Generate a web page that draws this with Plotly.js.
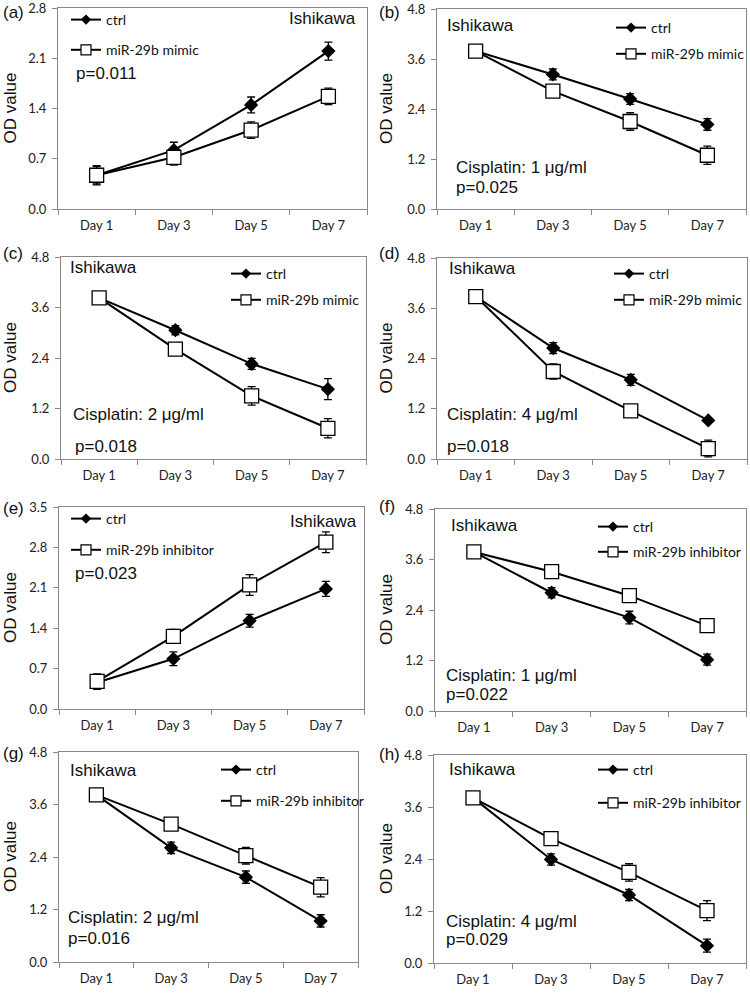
<!DOCTYPE html>
<html>
<head>
<meta charset="utf-8">
<script src="https://cdn.plot.ly/plotly-3.0.1.min.js"></script>
<style>html,body{margin:0;padding:0;background:#fff;}#chart{width:750px;height:993px;}</style>
</head>
<body>
<div id="chart"></div>
<script>
// ---- data ----
const days = ["Day 1", "Day 3", "Day 5", "Day 7"];

const ctrlA = [0.47, 0.82, 1.45, 2.20];
const ctrlAErr = [0.12, 0.11, 0.11, 0.125];
const mimicA = [0.47, 0.72, 1.10, 1.57];
const mimicAErr = [0.135, 0.11, 0.115, 0.115];

const ctrlB = [3.79, 3.23, 2.64, 2.03];
const ctrlBErr = [0.05, 0.13, 0.13, 0.14];
const mimicB = [3.79, 2.83, 2.10, 1.29];
const mimicBErr = [0.05, 0.06, 0.21, 0.22];

const ctrlC = [3.83, 3.06, 2.26, 1.66];
const ctrlCErr = [0.05, 0.11, 0.13, 0.25];
const mimicC = [3.83, 2.61, 1.50, 0.73];
const mimicCErr = [0.05, 0.06, 0.22, 0.23];

const ctrlD = [3.88, 2.65, 1.89, 0.92];
const ctrlDErr = [0.05, 0.13, 0.13, 0.04];
const mimicD = [3.88, 2.09, 1.15, 0.25];
const mimicDErr = [0.05, 0.18, 0.10, 0.20];

const ctrlE = [0.46, 0.87, 1.53, 2.08];
const ctrlEErr = [0.12, 0.12, 0.11, 0.13];
const inhibE = [0.48, 1.26, 2.15, 2.89];
const inhibEErr = [0.13, 0.12, 0.18, 0.18];

const ctrlF = [3.78, 2.81, 2.22, 1.22];
const ctrlFErr = [0.05, 0.12, 0.15, 0.13];
const inhibF = [3.78, 3.31, 2.74, 2.03];
const inhibFErr = [0.05, 0.05, 0.08, 0.10];

const ctrlG = [3.82, 2.61, 1.94, 0.94];
const ctrlGErr = [0.05, 0.13, 0.14, 0.14];
const inhibG = [3.82, 3.15, 2.43, 1.71];
const inhibGErr = [0.05, 0.06, 0.19, 0.22];

const ctrlH = [3.81, 2.39, 1.57, 0.40];
const ctrlHErr = [0.05, 0.13, 0.13, 0.15];
const inhibH = [3.81, 2.87, 2.09, 1.21];
const inhibHErr = [0.05, 0.06, 0.20, 0.23];

// y tick values / labels
const ticks28 = [0, 0.7, 1.4, 2.1, 2.8];
const ticks28Text = ["0.0", "0.7", "1.4", "2.1", "2.8"];
const ticks35 = [0, 0.7, 1.4, 2.1, 2.8, 3.5];
const ticks35Text = ["0.0", "0.7", "1.4", "2.1", "2.8", "3.5"];
const ticks48 = [0, 1.2, 2.4, 3.6, 4.8];
const ticks48Text = ["0.0", "1.2", "2.4", "3.6", "4.8"];

const panelLabels = ["(a)", "(b)", "(c)", "(d)", "(e)", "(f)", "(g)", "(h)"];
const treatNames = ["miR-29b mimic", "miR-29b mimic", "miR-29b mimic", "miR-29b mimic",
                    "miR-29b inhibitor", "miR-29b inhibitor", "miR-29b inhibitor", "miR-29b inhibitor"];
const cisplatinText = [null, "Cisplatin: 1 μg/ml", "Cisplatin: 2 μg/ml", "Cisplatin: 4 μg/ml",
                       null, "Cisplatin: 1 μg/ml", "Cisplatin: 2 μg/ml", "Cisplatin: 4 μg/ml"];
const pValues = ["p=0.011", "p=0.025", "p=0.018", "p=0.018", "p=0.023", "p=0.022", "p=0.016", "p=0.029"];
const yMax = [2.8, 4.8, 4.8, 4.8, 3.5, 4.8, 4.8, 4.8];
const yTickVals = [ticks28, ticks48, ticks48, ticks48, ticks35, ticks48, ticks48, ticks48];
const yTickText = [ticks28Text, ticks48Text, ticks48Text, ticks48Text, ticks35Text, ticks48Text, ticks48Text, ticks48Text];

const ctrlSeries = [ctrlA, ctrlB, ctrlC, ctrlD, ctrlE, ctrlF, ctrlG, ctrlH];
const ctrlErrs = [ctrlAErr, ctrlBErr, ctrlCErr, ctrlDErr, ctrlEErr, ctrlFErr, ctrlGErr, ctrlHErr];
const treatSeries = [mimicA, mimicB, mimicC, mimicD, inhibE, inhibF, inhibG, inhibH];
const treatErrs = [mimicAErr, mimicBErr, mimicCErr, mimicDErr, inhibEErr, inhibFErr, inhibGErr, inhibHErr];

// ---- layout geometry (pixels) ----
const W = 750, H = 993;
const boxes = [ // left, right, top, bottom
  [58, 367, 8, 209], [437, 746, 9, 209],
  [61, 366, 257, 459], [437, 747, 258, 459],
  [59, 364, 507, 709], [435, 746, 509, 711],
  [59, 358, 752, 962], [434, 746, 755, 963]
];
const legendPos = [ // symbol-start x, first item centre y, item spacing
  [71, 20, 29], [616, 28, 25], [231, 274, 25], [614, 274, 25],
  [71, 519, 30], [598, 527, 24], [221, 770, 30], [598, 770, 32]
];
const ishiPos = [ // x, y (domain), anchor
  [0.971, 0.946, "right"], [0.026, 0.92, "left"], [0.023, 0.95, "left"], [0.032, 0.95, "left"],
  [0.984, 0.93, "right"], [0.045, 0.92, "left"], [0.03, 0.914, "left"], [0.042, 0.928, "left"]
];
const pPos = [[0.052, 0.673], [0.055, 0.105], [0.04, 0.06], [0.026, 0.06],
              [0.046, 0.673], [0.029, 0.08], [0.023, 0.114], [0.032, 0.115]];
const cisPos = [null, [0.055, 0.21], [0.033, 0.218], [0.026, 0.219],
                null, [0.029, 0.178], [0.023, 0.21], [0.032, 0.2]];
const labelY = [12, 12, 254, 254, 508, 506, 753, 754];

const tickFont = {family: "Lato, 'Liberation Sans', sans-serif", size: 13, color: "#222"};
const bigFont = {family: "'Liberation Sans', Arial, sans-serif", size: 17, color: "#111"};
const legFont = {family: "Lato, 'Liberation Sans', sans-serif", size: 14, color: "#111"};

const data = [];
const layout = {
  width: W, height: H,
  margin: {l: 0, r: 0, t: 0, b: 0},
  paper_bgcolor: "#fff", plot_bgcolor: "#fff",
  annotations: [], showlegend: true
};

for (let i = 0; i < 8; i++) {
  const n = i + 1;
  const xa = n === 1 ? "x" : "x" + n;
  const ya = n === 1 ? "y" : "y" + n;
  const lg = n === 1 ? "legend" : "legend" + n;
  const [l, r, t, b] = boxes[i];

  layout[n === 1 ? "xaxis" : "xaxis" + n] = {
    domain: [l / W, r / W], anchor: ya, type: "category",
    range: [-0.5, days.length - 0.5], autorange: false,
    tickson: "boundaries", ticks: "outside", ticklen: 5, tickcolor: "#888", tickwidth: 1,
    showline: true, linecolor: "#888", linewidth: 1, mirror: true,
    showgrid: false, zeroline: false, tickfont: tickFont, ticklabelstandoff: 4,
    ticklabeloverflow: "allow", fixedrange: true
  };
  layout[n === 1 ? "yaxis" : "yaxis" + n] = {
    domain: [1 - b / H, 1 - t / H], anchor: xa,
    range: [0, yMax[i]], autorange: false,
    tickmode: "array", tickvals: yTickVals[i], ticktext: yTickText[i],
    ticks: "outside", ticklen: 5, tickcolor: "#888", tickwidth: 1,
    showline: true, linecolor: "#888", linewidth: 1, mirror: true,
    showgrid: false, zeroline: false, tickfont: tickFont, ticklabelstandoff: 3,
    ticklabeloverflow: "allow", fixedrange: true
  };

  // data traces
  data.push({
    x: days, y: ctrlSeries[i], xaxis: xa, yaxis: ya, type: "scatter", mode: "lines+markers",
    line: {color: "#000", width: 2},
    marker: {symbol: "diamond", size: 11, color: "#000"},
    error_y: {type: "data", array: ctrlErrs[i], visible: true, color: "#000", thickness: 1.3, width: 4},
    showlegend: false, cliponaxis: false
  });
  data.push({
    x: days, y: treatSeries[i], xaxis: xa, yaxis: ya, type: "scatter", mode: "lines+markers",
    line: {color: "#000", width: 2},
    marker: {symbol: "square", size: 14, color: "#fff", line: {color: "#000", width: 1.3}},
    error_y: {type: "data", array: treatErrs[i], visible: true, color: "#000", thickness: 1.3, width: 4},
    showlegend: false, cliponaxis: false
  });
  // legend entries (no data)
  data.push({
    x: [null], y: [null], xaxis: xa, yaxis: ya, type: "scatter", mode: "lines+markers",
    name: "ctrl", legend: lg, legendgroup: "c" + n,
    line: {color: "#000", width: 2}, marker: {symbol: "diamond", size: 8, color: "#000"}
  });
  data.push({
    x: [null], y: [null], xaxis: xa, yaxis: ya, type: "scatter", mode: "lines+markers",
    name: treatNames[i], legend: lg, legendgroup: "t" + n,
    line: {color: "#000", width: 2}, marker: {symbol: "square", size: 10, color: "#fff", line: {color: "#000", width: 1.2}}
  });

  const [lx, ly, gap] = legendPos[i];
  layout[lg] = {
    x: (lx - 5) / W, y: 1 - (ly - 16) / H, xanchor: "left", yanchor: "top",
    xref: "paper", yref: "paper",
    bgcolor: "rgba(0,0,0,0)", borderwidth: 0, font: legFont,
    traceorder: "grouped", tracegroupgap: gap - 20, itemwidth: 30
  };

  // texts
  layout.annotations.push({
    text: "Ishikawa", xref: xa + " domain", yref: ya + " domain",
    x: ishiPos[i][0], y: ishiPos[i][1], xanchor: ishiPos[i][2], yanchor: "middle",
    showarrow: false, font: bigFont
  });
  layout.annotations.push({
    text: pValues[i], xref: xa + " domain", yref: ya + " domain",
    x: pPos[i][0], y: pPos[i][1], xanchor: "left", yanchor: "middle",
    showarrow: false, font: bigFont
  });
  if (cisplatinText[i]) {
    layout.annotations.push({
      text: cisplatinText[i], xref: xa + " domain", yref: ya + " domain",
      x: cisPos[i][0], y: cisPos[i][1], xanchor: "left", yanchor: "middle",
      showarrow: false, font: bigFont
    });
  }
  layout.annotations.push({
    text: "OD value", xref: "paper", yref: ya + " domain",
    x: (i % 2 === 0 ? 10 : 386) / W, y: 0.5, xanchor: "center", yanchor: "middle",
    textangle: -90, showarrow: false, font: bigFont
  });
  layout.annotations.push({
    text: panelLabels[i], xref: "paper", yref: "paper",
    x: (i % 2 === 0 ? 1 : 377) / W, y: 1 - labelY[i] / H, xanchor: "left", yanchor: "middle",
    showarrow: false, font: bigFont
  });
}

Plotly.newPlot("chart", data, layout, {staticPlot: true, displayModeBar: false});
</script>
</body>
</html>
